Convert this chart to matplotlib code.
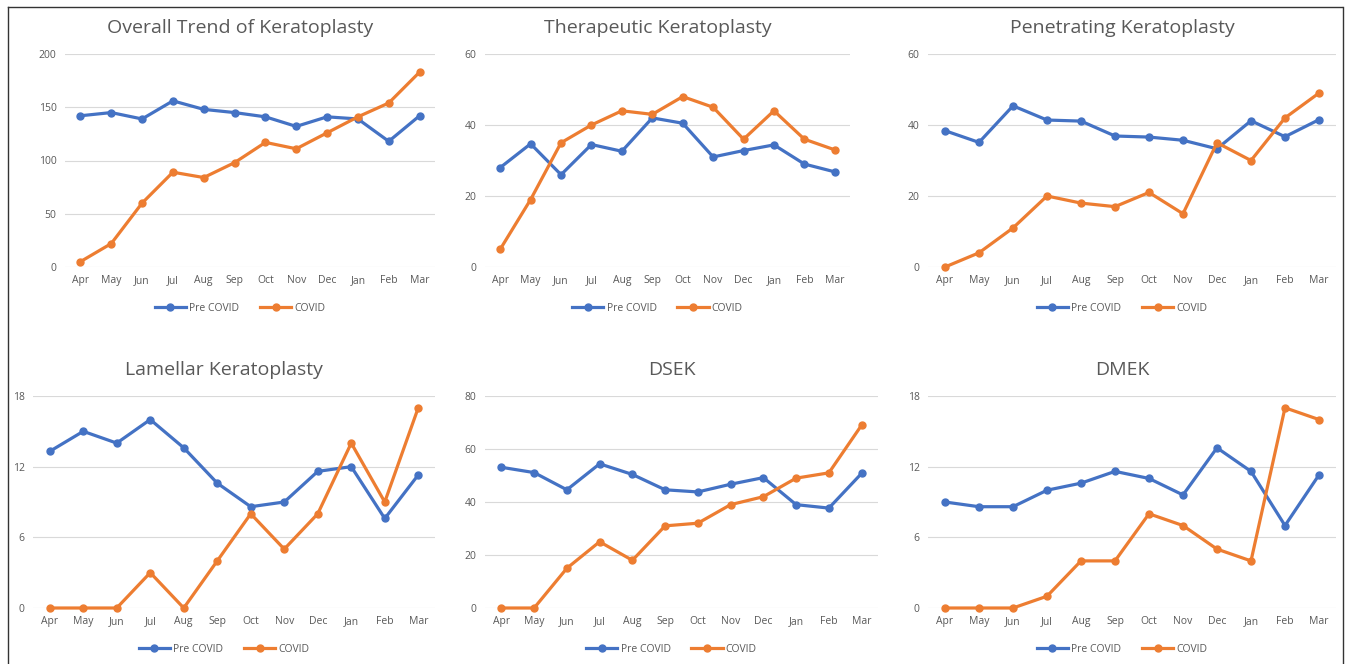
import matplotlib.pyplot as plt
from matplotlib.lines import Line2D

months = ['Apr', 'May', 'Jun', 'Jul', 'Aug', 'Sep', 'Oct', 'Nov', 'Dec', 'Jan', 'Feb', 'Mar']

overall_pre = [142, 145, 139, 156, 148, 145, 141, 132, 141, 139, 118, 142]
overall_covid = [5, 22, 60, 89, 84, 98, 117, 111, 126, 141, 154, 183]

therapeutic_pre = [28, 34.7, 26, 34.5, 32.6, 42, 40.5, 31, 32.8, 34.4, 29, 26.8]
therapeutic_covid = [5, 19, 35, 40, 44, 43, 48, 45, 36, 44, 36, 33]

penetrating_pre = [38.4, 35.1, 45.4, 41.4, 41.1, 36.9, 36.6, 35.7, 33.3, 41.2, 36.7, 41.5]
penetrating_covid = [0, 4, 11, 20, 18, 17, 21, 15, 35, 30, 42, 49]

lamellar_pre = [13.3, 15, 14, 16, 13.6, 10.6, 8.6, 9, 11.6, 12, 7.6, 11.3]
lamellar_covid = [0, 0, 0, 3, 0, 4, 8, 5, 8, 14, 9, 17]

dsek_pre = [53.1, 51.1, 44.6, 54.4, 50.4, 44.6, 43.8, 46.7, 49.2, 39, 37.7, 50.8]
dsek_covid = [0, 0, 15, 25, 18, 31, 32, 39, 42, 49, 51, 69]

dmek_pre = [9, 8.6, 8.6, 10, 10.6, 11.6, 11, 9.6, 13.6, 11.6, 7, 11.3]
dmek_covid = [0, 0, 0, 1, 4, 4, 8, 7, 5, 4, 17, 16]

titles = ['Overall Trend of Keratoplasty', 'Therapeutic Keratoplasty', 'Penetrating Keratoplasty',
          'Lamellar Keratoplasty', 'DSEK', 'DMEK']
pre_series = [overall_pre, therapeutic_pre, penetrating_pre, lamellar_pre, dsek_pre, dmek_pre]
covid_series = [overall_covid, therapeutic_covid, penetrating_covid, lamellar_covid, dsek_covid, dmek_covid]
y_ticks = [[0, 50, 100, 150, 200], [0, 20, 40, 60], [0, 20, 40, 60],
           [0, 6, 12, 18], [0, 20, 40, 60, 80], [0, 6, 12, 18]]

BLUE = '#4472C4'
ORANGE = '#ED7D31'
GREY = '#595959'

plt.rcParams['font.family'] = ['Open Sans', 'DejaVu Sans']

W, H = 1346, 664
fig = plt.figure(figsize=(W / 100, H / 100), dpi=100)

# plot areas in pixels: (x0, x1, y_top, y_bottom)
boxes = [(65, 435, 54, 267), (485, 850, 54, 267), (928, 1336, 54, 267),
         (33, 435, 396, 608), (485, 878, 396, 608), (928, 1336, 396, 608)]

for k, (x0, x1, yt, yb) in enumerate(boxes):
    ax = fig.add_axes([x0 / W, 1 - yb / H, (x1 - x0) / W, (yb - yt) / H])
    xs = range(len(months))
    ax.plot(xs, pre_series[k], color=BLUE, lw=2.3, marker='o', ms=5, label='Pre COVID', zorder=3)
    ax.plot(xs, covid_series[k], color=ORANGE, lw=2.3, marker='o', ms=5, label='COVID', zorder=3)
    ax.set_xlim(-0.5, len(months) - 0.5)
    ax.set_ylim(0, y_ticks[k][-1])
    ax.set_yticks(y_ticks[k])
    ax.set_xticks(list(xs))
    ax.set_xticklabels(months)
    ax.grid(axis='y', color='#d9d9d9', lw=0.8)
    ax.set_axisbelow(True)
    for s in ax.spines.values():
        s.set_visible(False)
    ax.tick_params(length=0, labelsize=7.5, labelcolor=GREY, pad=6)
    # title and legend sit a bit left of the plot-area centre, as in the source
    cx = 0.5 - 10 / (x1 - x0)
    ax.set_title(titles[k], fontsize=14, color=GREY, pad=15, x=cx)
    for ln in ax.lines:
        ln.set_clip_on(False)
    ax.legend(loc='upper center', bbox_to_anchor=(cx, -0.125), ncol=2, frameon=False,
              fontsize=7.5, labelcolor=GREY, handlelength=3, columnspacing=2, handletextpad=0.3)

# outer frame
fig.add_artist(Line2D([8 / W, 1342 / W], [1 - 7 / H, 1 - 7 / H], color='#333333', lw=1))
fig.add_artist(Line2D([8 / W, 8 / W], [0, 1 - 7 / H], color='#333333', lw=1))
fig.add_artist(Line2D([1343 / W, 1343 / W], [0, 1 - 7 / H], color='#333333', lw=1))

fig.savefig('out.png', dpi=100)
